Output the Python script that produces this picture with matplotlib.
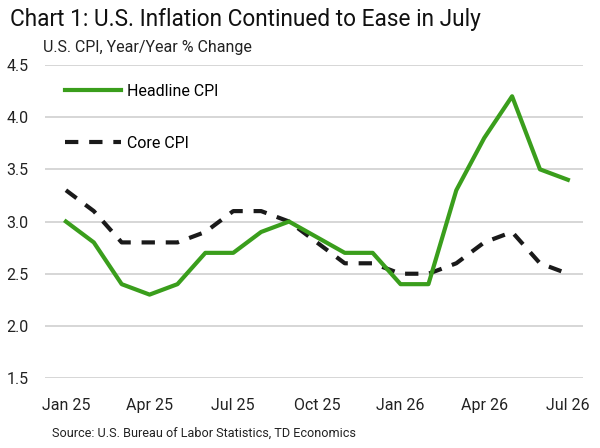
import matplotlib.pyplot as plt

plt.rcParams['font.family'] = ['Roboto', 'DejaVu Sans']

months = ['Jan 25', 'Feb 25', 'Mar 25', 'Apr 25', 'May 25', 'Jun 25', 'Jul 25',
          'Aug 25', 'Sep 25', 'Oct 25', 'Nov 25', 'Dec 25', 'Jan 26', 'Feb 26',
          'Mar 26', 'Apr 26', 'May 26', 'Jun 26', 'Jul 26']
headline = [3.0, 2.8, 2.4, 2.3, 2.4, 2.7, 2.7, 2.9, 3.0, 2.85, 2.7, 2.7,
            2.4, 2.4, 3.3, 3.8, 4.2, 3.5, 3.4]
core = [3.3, 3.1, 2.8, 2.8, 2.8, 2.9, 3.1, 3.1, 3.0, 2.8, 2.6, 2.6,
        2.5, 2.5, 2.6, 2.8, 2.9, 2.6, 2.5]

x = list(range(len(months)))

fig = plt.figure(figsize=(6, 4.48), dpi=100)
ax = fig.add_axes([0.075, 0.156, 0.897, 0.699])

# 网格线
for v in [1.5, 2.0, 2.5, 3.0, 3.5, 4.0, 4.5]:
    ax.axhline(v, color='#d0d0d0', lw=1.2, zorder=0)

ax.plot(x, headline, color='#3A9E1C', lw=3, label='Headline CPI', zorder=3)
ax.plot(x, core, color='#1a1a1a', lw=3, dashes=(3.2, 2.6), label='Core CPI', zorder=2)

ax.set_xlim(-0.75, 18.55)
ax.set_ylim(1.5, 4.5)
ax.set_xticks(x[::3])
ax.set_xticklabels(months[::3])
ax.set_yticks([1.5, 2.0, 2.5, 3.0, 3.5, 4.0, 4.5])
ax.set_yticklabels(['1.5', '2.0', '2.5', '3.0', '3.5', '4.0', '4.5'])
ax.tick_params(length=0, labelsize=11.5, colors='#222222')
ax.tick_params(axis='x', pad=14)
ax.tick_params(axis='y', pad=12)
for s in ax.spines.values():
    s.set_visible(False)

leg = ax.legend(loc='upper left', bbox_to_anchor=(0.01, 0.985), frameon=False,
                fontsize=11.5, handlelength=3.5, labelspacing=2.3, handletextpad=0.4)

fig.text(0.017, 0.957, 'Chart 1: U.S. Inflation Continued to Ease in July',
         fontsize=16.3, va='center', color='#111111')
fig.text(0.072, 0.893, 'U.S. CPI, Year/Year % Change', fontsize=11.5,
         va='center', color='#222222')
fig.text(0.087, 0.033, 'Source: U.S. Bureau of Labor Statistics, TD Economics',
         fontsize=9.1, va='center', color='#222222')

fig.savefig('out.png', dpi=100)
